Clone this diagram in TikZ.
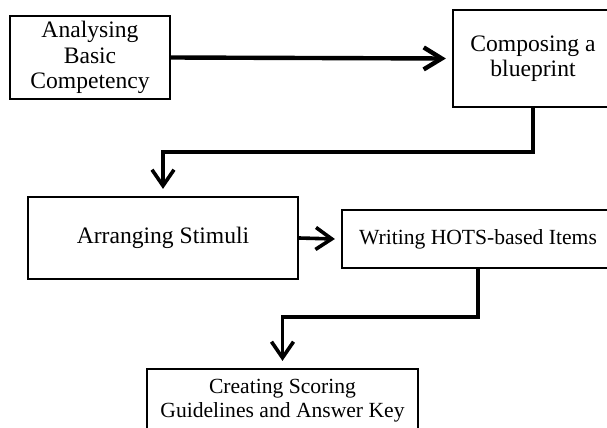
\documentclass[tikz,border=0pt]{standalone}
\usepackage{fontspec}
\setmainfont{Liberation Serif}
\usetikzlibrary{arrows.meta}

\tikzset{
  stepbox/.style={draw,line width=1.1pt,align=center,inner sep=2pt,font=\fontsize{11.8}{12.8}\selectfont},
  smallbox/.style={stepbox,font=\fontsize{10.8}{12}\selectfont},
  flow/.style={line width=1.8pt,-{Straight Barb[length=8pt,width=11pt,line width=1.8pt]}},
  mainflow/.style={line width=2.2pt,-{Straight Barb[length=9pt,width=11pt,line width=2.2pt]}}
}

\begin{document}
\begin{tikzpicture}[x=0.5pt,y=-0.5pt]
      \useasboundingbox (0,0) rectangle (607,428);
      \clip (0,0) rectangle (607,428);
      \node[stepbox,minimum width=80pt,minimum height=41.5pt] (analyse) at (90,57.5) {Analysing\\Basic\\Competency};
      \node[stepbox,minimum width=80pt,minimum height=48.5pt] (blueprint) at (533,58.5) {Composing a\\blueprint};
      \node[stepbox,minimum width=135pt,minimum height=41pt] (stimuli) at (163,238) {Arranging Stimuli};
      \node[smallbox,minimum width=136pt,minimum height=29pt] (items) at (478,239) {Writing HOTS-based Items};
      \node[smallbox,minimum width=135.5pt,minimum height=32pt] (scoring) at (282.5,401) {Creating Scoring\\Guidelines and Answer Key};
      \coordinate (bend1) at (533,152);
      \coordinate (bend2) at (478,317);
      \draw[mainflow] (analyse.east) -- ([xshift=-3pt]blueprint.west);
      \draw[flow] (blueprint.south) -- (bend1) -| ([yshift=3.5pt]stimuli.north);
      \draw[flow] (stimuli.east) -- ([xshift=-3pt]items.west);
      \draw[flow] (items.south) -- (bend2) -| ([yshift=3.5pt]scoring.north);
\end{tikzpicture}
\end{document}
